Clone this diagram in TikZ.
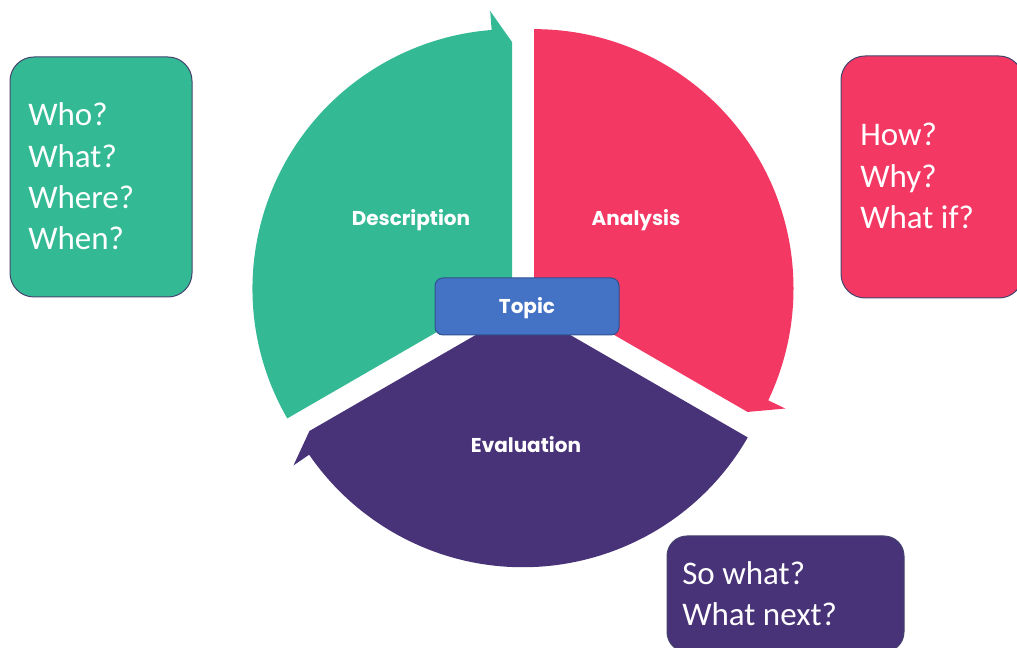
\documentclass[tikz,border=0pt]{standalone}
\usepackage{fontspec}
\setmainfont{Carlito}
\newfontfamily\lblfamily{Poppins}
\definecolor{cgreen}{HTML}{33BA95}
\definecolor{cpink}{HTML}{F43864}
\definecolor{cpurple}{HTML}{483278}
\definecolor{ctopic}{HTML}{4472C4}
\definecolor{ctopicline}{HTML}{2F528F}
\definecolor{boxline}{HTML}{44446E}
\begin{document}
\begin{tikzpicture}[x=0.75pt,y=0.75pt,
  qbox/.style={draw=boxline, line width=0.75pt, rounded corners=18pt, inner sep=0pt},
  qtext/.style={text=white, anchor=base west, inner sep=0pt, font=\fontsize{24.75}{30}\selectfont},
  lbl/.style={text=white, inner sep=0pt, font=\lblfamily\bfseries\fontsize{15}{18}\selectfont}]
\clip (0,0) rectangle (1017,648);
\fill[white] (0,0) rectangle (1017,648);
\coordinate (C) at (523,353);
% green segment (Description)
\begin{scope}[shift={(C)},shift={(150:12.7)}]
\fill[cgreen] (0,0) -- (210:259.5) arc[start angle=210,end angle=94.5,radius=259.5]
  -- (94.5:278.5) -- (90:246.6) -- cycle;
\end{scope}
% pink segment (Analysis)
\begin{scope}[shift={(C)},shift={(30:12.7)}]
\fill[cpink] (0,0) -- (90:259.5) arc[start angle=90,end angle=-25.5,radius=259.5]
  -- (-25.5:278.5) -- (-30:246.6) -- cycle;
\end{scope}
% purple segment (Evaluation)
\begin{scope}[shift={(C)},shift={(270:12.7)}]
\fill[cpurple] (0,0) -- (330:259.5) arc[start angle=330,end angle=214.5,radius=259.5]
  -- (214.5:278.5) -- (210:246.6) -- cycle;
\end{scope}
% labels
\node[lbl] (desc) at (411,427.5) {Description};
\node[lbl] (anal) at (636,427.5) {Analysis};
\node[lbl] (eval) at (526,203) {Evaluation};
\node[lbl, fill=ctopic, draw=ctopicline, line width=0.75pt, rounded corners=6pt,
  text height=10.5pt, text depth=0pt,
  minimum width=138pt, minimum height=42.75pt] (topic) at (527,341.5) {Topic};
% question boxes
\node[qbox, fill=cgreen, minimum width=136.5pt, minimum height=180pt] (gbox) at (101,471) {};
\node[qbox, fill=cpink, minimum width=136.5pt, minimum height=181.5pt] (pbox) at (932,471) {};
\node[qbox, fill=cpurple, rounded corners=15pt, minimum width=177.75pt, minimum height=87pt] (ubox) at (785.5,54) {};
\node[qtext] (who) at (28,522) {Who?};
\node[qtext] (what) at (28,480.5) {What?};
\node[qtext] (where) at (28,439) {Where?};
\node[qtext] (when) at (28,398) {When?};
\node[qtext] (how) at (860,502) {How?};
\node[qtext] (why) at (860,460.7) {Why?};
\node[qtext] (whatif) at (860,419.7) {What if?};
\node[qtext] (sowhat) at (682,63) {So what?};
\node[qtext] (whatnext) at (682,22) {What next?};
\end{tikzpicture}
\end{document}
